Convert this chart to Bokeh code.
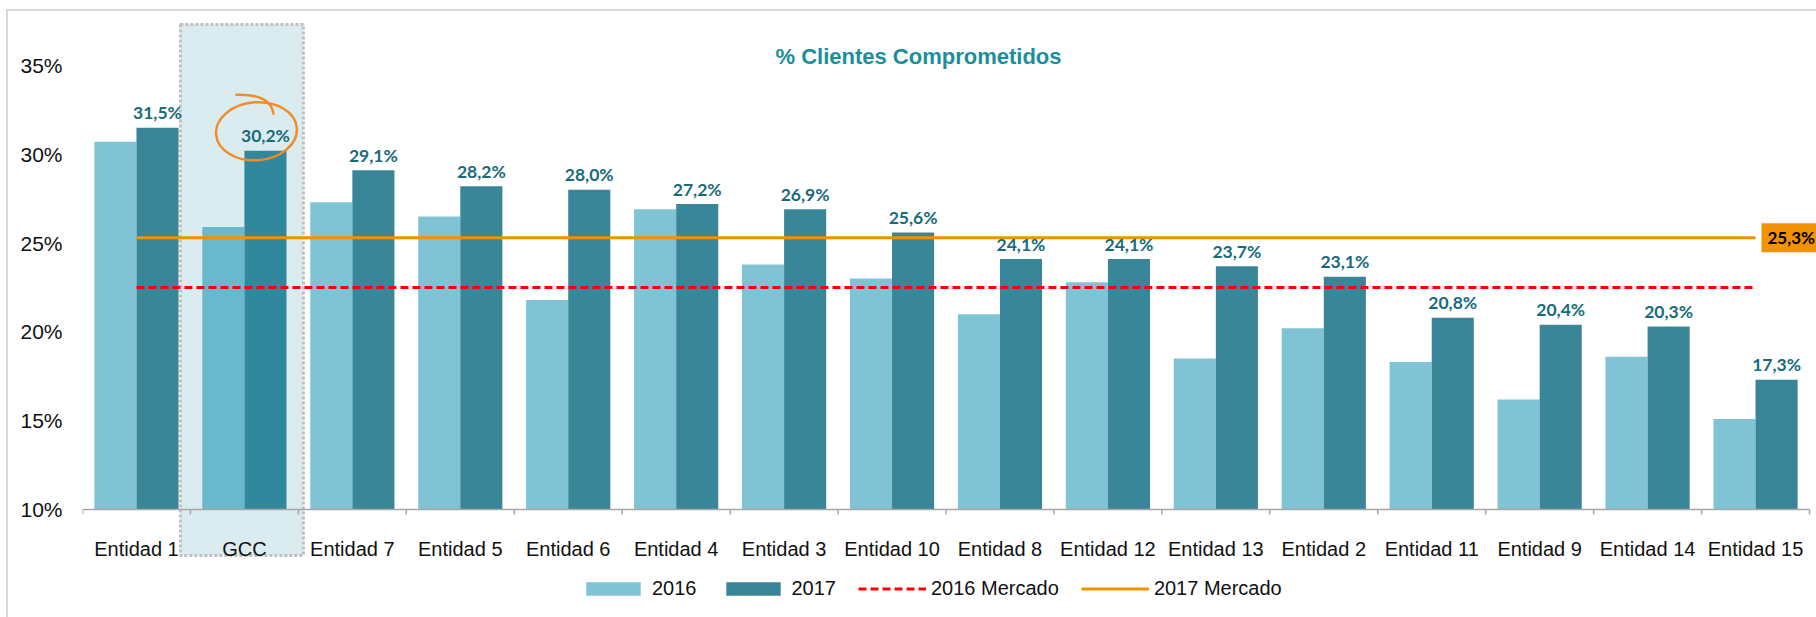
from bokeh.plotting import figure
from bokeh.models import (Range1d, FixedTicker, PrintfTickFormatter,
                          Label, Legend, LegendItem, ColumnDataSource)
from bokeh.core.properties import value
from bokeh.embed import file_html
from bokeh.resources import INLINE

# ---------------- data ----------------
categories = ["Entidad 1", "GCC", "Entidad 7", "Entidad 5", "Entidad 6", "Entidad 4",
              "Entidad 3", "Entidad 10", "Entidad 8", "Entidad 12", "Entidad 13",
              "Entidad 2", "Entidad 11", "Entidad 9", "Entidad 14", "Entidad 15"]
values_2016 = [30.7, 25.9, 27.3, 26.5, 21.8, 26.9, 23.8, 23.0, 21.0, 22.8,
               18.5, 20.2, 18.3, 16.2, 18.6, 15.1]
values_2017 = [31.5, 30.2, 29.1, 28.2, 28.0, 27.2, 26.9, 25.6, 24.1, 24.1,
               23.7, 23.1, 20.8, 20.4, 20.3, 17.3]
mercado_2016 = 22.5
mercado_2017 = 25.3
y_ticks = [10, 15, 20, 25, 30, 35]
series_names = ["2016", "2017", "2016 Mercado", "2017 Mercado"]
title_text = "% Clientes Comprometidos"
highlight = "GCC"

# ---------------- layout / style ----------------
W, H = 1816, 617
FL, FR, FT, FB = 82, 0, 20, 0
frame_w = W - FL - FR
frame_h = H - FT - FB
n = len(categories)
PX_X = 1727 / n               # px per category
PPU = 17.76                    # px per percentage point
base = y_ticks[0]
y_start = base - 108 / PPU
y_end = y_start + frame_h / PPU
x_end = frame_w / PX_X

FONT = "Liberation Sans"
LABEL_FONT = "Lato"
C16, C17 = "#7fc3d5", "#3a8699"
C16_HL, C17_HL = "#69b8cc", "#31879b"
LBL_COLOR = "#176b7b"
ORANGE = "#f39200"
RED = "#ff0000"
AXIS = "#a6a6a6"
BW = 0.39

def fmt(v):
    return ("%.1f%%" % v).replace(".", ",")

centers = [i + 0.5 for i in range(n)]
src = ColumnDataSource(dict(
    cat=categories,
    xc=centers,
    x16=[c - BW / 2 for c in centers],
    x17=[c + BW / 2 for c in centers],
    v16=values_2016,
    v17=values_2017,
    c16=[C16_HL if c == highlight else C16 for c in categories],
    c17=[C17_HL if c == highlight else C17 for c in categories],
    lbl=[fmt(v) for v in values_2017],
    base=[base] * n,
))

p = figure(width=W, height=H, x_range=Range1d(0, x_end),
           y_range=Range1d(y_start, y_end), output_backend="svg",
           toolbar_location=None, x_axis_location=None,
           min_border_left=FL, min_border_right=FR, min_border_top=FT,
           min_border_bottom=FB)
p.outline_line_color = None
p.grid.visible = False
p.background_fill_color = "white"
p.border_fill_alpha = 0
p.styles = {
    "background-color": "white",
    "background-image": "linear-gradient(#d9d9d9,#d9d9d9), linear-gradient(#d9d9d9,#d9d9d9)",
    "background-repeat": "no-repeat",
    "background-position": "6px 9px, 6px 9px",
    "background-size": "2px 100%, 100% 2px",
}

# highlight box around GCC
gi = categories.index(highlight)
p.quad(left=gi - 10 / PX_X, right=gi + 1 + 5 / PX_X,
       bottom=base - 46 / PPU, top=y_end - 4 / PPU,
       fill_color="#daecf0", line_color="#c0c0c0", line_width=3, line_dash="3 2")

# bars
r16 = p.vbar(x="x16", top="v16", bottom="base", width=BW, fill_color="c16",
             line_color=None, source=src)
r17 = p.vbar(x="x17", top="v17", bottom="base", width=BW, fill_color="c17",
             line_color=None, source=src)

# market lines
rm16 = p.line(x=centers, y=[mercado_2016] * n, line_color=RED, line_width=3,
              line_dash="8 4")
rm17 = p.line(x=centers, y=[mercado_2017] * n, line_color=ORANGE, line_width=3)

# data labels
p.text(x="x17", y="v17", text="lbl", source=src,
       text_align="center", text_baseline="alphabetic", y_offset=-15,
       text_font=value(LABEL_FONT), text_font_style="bold",
       text_font_size="17.5px", text_color=LBL_COLOR)

# x axis line, boundary ticks, category labels
p.segment(x0=[0], x1=[n], y0=[base], y1=[base], line_color=AXIS, line_width=1.5)
p.segment(x0=list(range(n + 1)), x1=list(range(n + 1)), y0=[base] * (n + 1),
          y1=[base - 5 / PPU] * (n + 1), line_color=AXIS, line_width=1.5)
p.text(x="xc", y="base", text="cat", source=src, text_align="center",
       text_baseline="alphabetic", y_offset=39, text_font=value(FONT),
       text_font_size="20px", text_color="#111111")

# y axis
ya = p.yaxis[0]
ya.ticker = FixedTicker(ticks=y_ticks)
ya.formatter = PrintfTickFormatter(format="%d%%")
ya.axis_line_color = None
ya.major_tick_line_color = None
ya.minor_tick_line_color = None
ya.major_tick_out = 0
ya.major_tick_in = 0
ya.major_label_standoff = 20
ya.major_label_text_font = FONT
ya.major_label_text_font_size = "21px"
ya.major_label_text_color = "#111111"

# orange hand-drawn circle around GCC label
ax = gi + 0.5 + BW / 2
ay = values_2017[gi]
def dx(px):
    return px / PX_X
def dy(px):
    return -px / PPU
p.ellipse(x=ax + dx(-9), y=ay + dy(-19.5), width=81, height=58,
          width_units="screen", height_units="screen", angle=0.08,
          fill_color=None, line_color="#f28c28", line_width=2.5)
p.bezier(x0=ax + dx(-30), y0=ay + dy(-56), x1=ax + dx(8), y1=ay + dy(-36),
         cx0=ax + dx(-3), cy0=ay + dy(-57), cx1=ax + dx(7), cy1=ay + dy(-49),
         line_color="#f28c28", line_width=2.5)

# title
p.add_layout(Label(x=(918 - FL) / PX_X, y=y_end - 36 / PPU, text=title_text,
                   text_align="center", text_baseline="alphabetic",
                   text_font=FONT, text_font_style="bold",
                   text_font_size="22px", text_color="#1a8f9b"))

# market value tag
p.add_layout(Label(x=n - 48 / PX_X, y=mercado_2017, text=fmt(mercado_2017),
                   text_align="left", text_baseline="middle",
                   text_font=LABEL_FONT, text_font_style="bold",
                   text_font_size="17px", text_color="#000000",
                   background_fill_color=ORANGE, padding=(6, 4)))

# legend
legend = Legend(items=[LegendItem(label=series_names[0], renderers=[r16]),
                       LegendItem(label=series_names[1], renderers=[r17]),
                       LegendItem(label=series_names[2], renderers=[rm16]),
                       LegendItem(label=series_names[3], renderers=[rm17])],
                orientation="horizontal", location=(579 - FL, 17),
                glyph_width=68, glyph_height=17, label_standoff=5, spacing=22,
                padding=0, margin=0, border_line_color=None,
                background_fill_alpha=0, label_text_font=FONT,
                label_text_font_size="20px", label_text_color="#111111")
p.add_layout(legend)

open("out.html", "w").write(file_html(p, INLINE))
